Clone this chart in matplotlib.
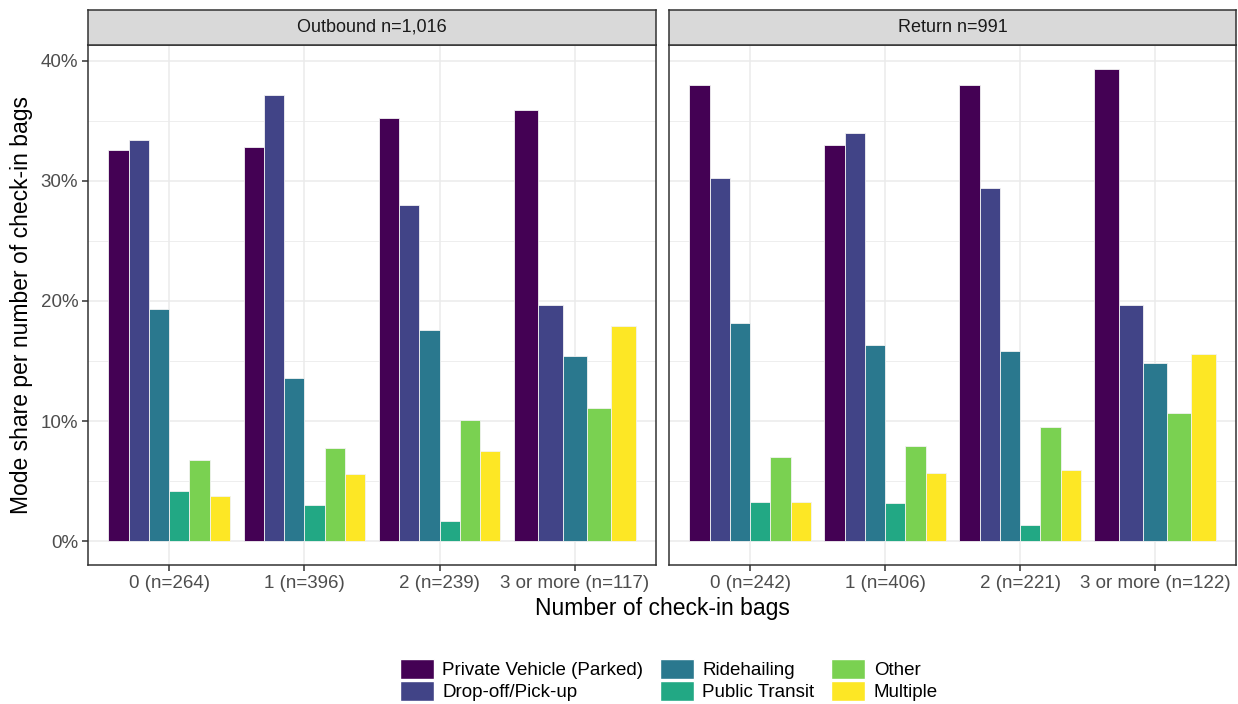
import numpy as np
import matplotlib
matplotlib.use('Agg')
import matplotlib.pyplot as plt
from matplotlib.patches import Patch
from matplotlib.ticker import MultipleLocator, FuncFormatter

plt.rcParams['font.family'] = ['Liberation Sans', 'DejaVu Sans']

# ---- data (percent mode share per number of check-in bags) ----
modes = ['Private Vehicle (Parked)', 'Drop-off/Pick-up', 'Ridehailing',
         'Public Transit', 'Other', 'Multiple']
colors = ['#440154', '#414487', '#2A788E', '#22A884', '#7AD151', '#FDE725']

facets = ['Outbound n=1,016', 'Return n=991']
out_labels = ['0 (n=264)', '1 (n=396)', '2 (n=239)', '3 or more (n=117)']
ret_labels = ['0 (n=242)', '1 (n=406)', '2 (n=221)', '3 or more (n=122)']

# rows = bag groups, cols = modes; nan = no respondents in that mode
outbound = np.array([
    [32.6, 33.4, 19.3, 4.2, 6.8, 3.8],
    [32.8, 37.1, 13.6, 3.0, 7.8, 5.6],
    [35.2, 28.0, 17.6, 1.7, 10.1, 7.5],
    [35.9, 19.7, 15.4, np.nan, 11.1, 17.95],
])
ret = np.array([
    [38.0, 30.2, 18.2, 3.3, 7.05, 3.3],
    [33.0, 34.0, 16.3, 3.2, 7.9, 5.7],
    [38.0, 29.4, 15.8, 1.35, 9.5, 5.9],
    [39.3, 19.7, 14.8, np.nan, 10.65, 15.6],
])

W, H = 1238, 704
fig = plt.figure(figsize=(W / 100, H / 100), dpi=100)

panel_x = [(88, 656), (669, 1236)]
top, bottom = 45, 565
strip_top = 10
border = '#333333'

for (x0, x1), title, labels, data in zip(panel_x, facets, [out_labels, ret_labels], [outbound, ret]):
    ax = fig.add_axes([x0 / W, 1 - bottom / H, (x1 - x0) / W, (bottom - top) / H])
    for i, row in enumerate(data):
        present = [k for k in range(len(modes)) if not np.isnan(row[k])]
        bw = 0.9 / len(present)
        for j, k in enumerate(present):
            ax.bar(i - 0.45 + bw * (j + 0.5), row[k], width=bw, color=colors[k],
                   edgecolor='#F2F2F2', linewidth=0.6, zorder=3)
    ax.set_xlim(-0.6, 3.6)
    ax.set_ylim(-1.97, 41.3)
    ax.set_xticks(range(4))
    ax.set_xticklabels(labels)
    ax.yaxis.set_major_locator(MultipleLocator(10))
    ax.yaxis.set_minor_locator(MultipleLocator(5))
    ax.yaxis.set_major_formatter(FuncFormatter(lambda v, p: f'{v:.0f}%'))
    ax.grid(which='major', color='#EBEBEB', lw=1.1, zorder=0)
    ax.grid(which='minor', axis='y', color='#EBEBEB', lw=0.6, zorder=0)
    ax.tick_params(axis='both', which='major', colors=border, labelcolor='#4D4D4D',
                   labelsize=13.5, length=4, width=1.1, pad=3)
    ax.tick_params(axis='y', which='minor', length=0)
    if x0 > 100:
        ax.tick_params(axis='y', labelleft=False, left=False)
    for s in ax.spines.values():
        s.set_color(border)
        s.set_linewidth(1.1)

    sax = fig.add_axes([x0 / W, 1 - top / H, (x1 - x0) / W, (top - strip_top) / H])
    sax.set_facecolor('#D9D9D9')
    sax.set_xticks([])
    sax.set_yticks([])
    for s in sax.spines.values():
        s.set_color(border)
        s.set_linewidth(1.1)
    sax.text(0.5, 0.5, title, ha='center', va='center', fontsize=13, color='#1A1A1A',
             transform=sax.transAxes)

fig.text(662 / W, 1 - 608 / H, 'Number of check-in bags', ha='center', va='center', fontsize=16.5)
fig.text(22 / W, 1 - 305 / H, 'Mode share per number of check-in bags', ha='center', va='center',
         rotation=90, fontsize=16.5)

handles = [Patch(facecolor=c, edgecolor='white') for c in colors]
fig.legend(handles, modes, ncol=3, loc='center', bbox_to_anchor=(669 / W, 1 - 680 / H),
           frameon=False, fontsize=13.5, handlelength=1.8, handleheight=1.25,
           labelspacing=0.1, columnspacing=0.9, handletextpad=0.45, borderpad=0)

fig.savefig('out.png', dpi=100)
